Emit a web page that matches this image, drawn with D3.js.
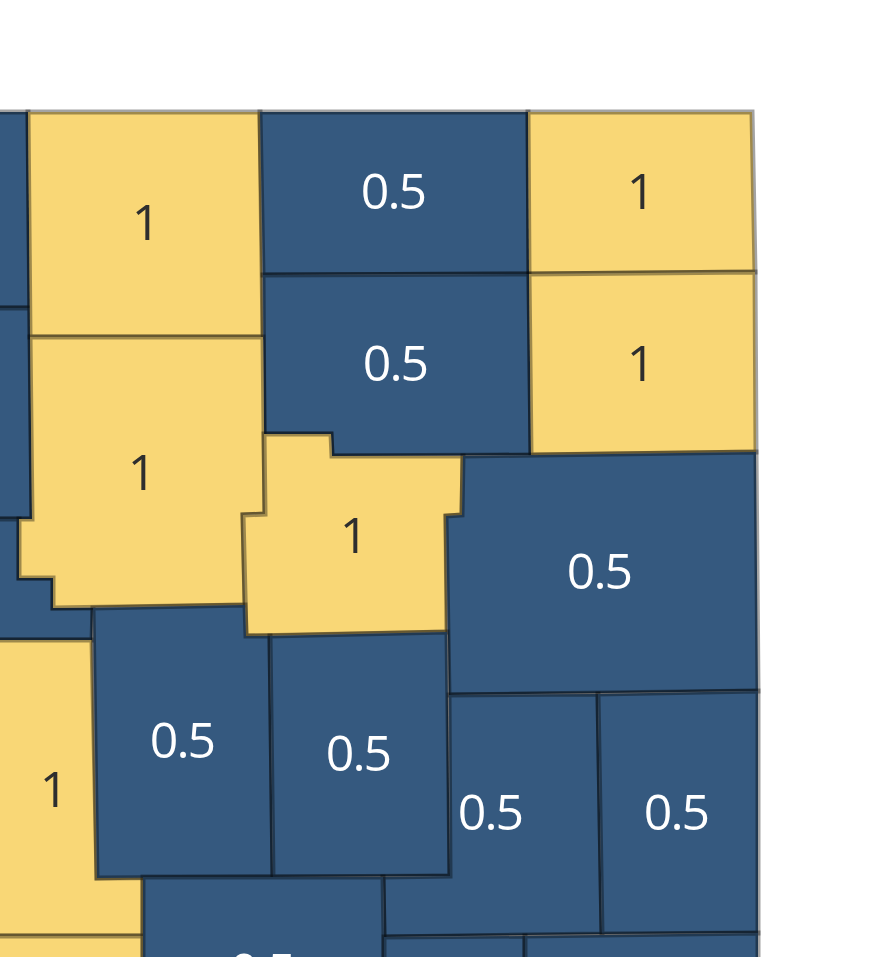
<!DOCTYPE html>
<html>
<head>
<meta charset="utf-8">
<script src="https://cdn.jsdelivr.net/npm/d3@7"></script>
<style>
html, body { margin: 0; background: #fff; overflow: hidden; }
</style>
</head>
<body>
<div id="chart"></div>
<script>
// region values, including the regions whose labels fall outside the crop
var values = [0.5, 0.5, 0.5, 1, 0.5, 1, 0.5, 1, 1, 1, 0.5, 1, 1, 0.5, 0.5, 0.5, 0.5, 0.5, 0.5, 0.5];

// region outlines in map units
var outlines = [
    [[-40, 112], [28, 112], [30, 308], [-40, 308]],
    [[-40, 308], [30, 308], [32, 519], [-40, 519]],
    [[-40, 519], [19, 519], [19, 578], [53, 578], [53, 608], [93, 608], [92, 640], [-40, 640]],
    [[28, 112], [260, 112], [263, 337], [30, 337]],
    [[260, 112], [528, 112], [529, 274], [263, 275]],
    [[528, 112], [752, 112], [755, 272], [529, 274]],
    [[263, 275], [529, 274], [531, 455], [332, 456], [331, 434], [264, 434]],
    [[529, 274], [755, 272], [756, 452], [531, 455]],
    [[30, 337], [263, 337], [265, 514], [243, 515], [245, 605], [53, 608], [53, 578], [19, 578], [19, 519], [32, 519]],
    [[264, 434], [331, 434], [332, 456], [463, 456], [462, 515], [446, 516], [447, 632], [246, 636], [243, 515], [265, 514]],
    [[463, 456], [756, 452], [758, 691], [449, 695], [446, 516], [462, 515]],
    [[-40, 640], [92, 640], [97, 878], [143, 877], [143, 936], [-40, 936]],
    [[-40, 936], [143, 936], [143, 990], [-40, 990]],
    [[93, 608], [245, 605], [246, 636], [270, 636], [273, 877], [97, 878]],
    [[270, 636], [447, 632], [450, 876], [273, 877]],
    [[449, 695], [598, 694], [602, 934], [384, 937], [383, 877], [450, 876]],
    [[598, 694], [758, 691], [758, 933], [602, 934]],
    [[143, 877], [383, 877], [384, 937], [384, 990], [143, 990]],
    [[384, 937], [525, 936], [525, 990], [384, 990]],
    [[525, 936], [758, 933], [758, 990], [525, 990]]
];

// label anchors in map units, null where the label is outside the crop
var label_x = [null, null, null, 145, 393, 640, 395, 640, 141, 353, 599, 53, null, 182, 358, 490, 676, 262, null, null];
var label_y = [null, null, null, 222, 191, 191, 363, 363, 472, 535, 571, 789, null, 740, 753, 812, 812, 971, null, null];

var categories = [0.5, 1];
var fills = ['#35597f', '#f9d776'];
var text_fills = ['#ffffff', '#2e2e2e'];

var chart_width = 880;
var chart_height = 957;

var x_scale = d3.scaleLinear().domain([0, 880]).range([0, chart_width]);
var y_scale = d3.scaleLinear().domain([0, 957]).range([0, chart_height]);

var fill_scale = d3.scaleOrdinal().domain(categories).range(fills);
var text_scale = d3.scaleOrdinal().domain(categories).range(text_fills);

var svg = d3.select('#chart')
    .append('svg')
    .attr('width', chart_width)
    .attr('height', chart_height)
    .style('display', 'block')

var line = d3.line()
    .x(function (d) { return x_scale(d[0]) })
    .y(function (d) { return y_scale(d[1]) })
    .curve(d3.curveLinearClosed)

var regions = outlines.map(function (o, i) {
    return { outline: o, value: values[i], lx: label_x[i], ly: label_y[i] }
})

// reference is an enlarged screenshot, so the edges are a little soft
svg.append('g')
    .style('filter', 'blur(0.7px)')
    .selectAll('path')
    .data(regions)
    .enter()
    .append('path')
    .attr('d', function (d) { return line(d.outline) })
    .attr('fill', function (d) { return fill_scale(d.value) })
    .attr('stroke', '#000')
    .attr('stroke-opacity', 0.36)
    .attr('stroke-width', 5)

svg.selectAll('text')
    .data(regions.filter(function (d) { return d.lx !== null }))
    .enter()
    .append('text')
    .text(function (d) { return d.value })
    .attr('x', function (d) { return x_scale(d.lx) })
    .attr('y', function (d) { return y_scale(d.ly) })
    .attr('dy', '0.36em')
    .attr('text-anchor', 'middle')
    .attr('font-family', '"Open Sans", sans-serif')
    .attr('font-size', 50)
    .attr('letter-spacing', -2)
    .attr('fill', function (d) { return text_scale(d.value) })
</script>
</body>
</html>
